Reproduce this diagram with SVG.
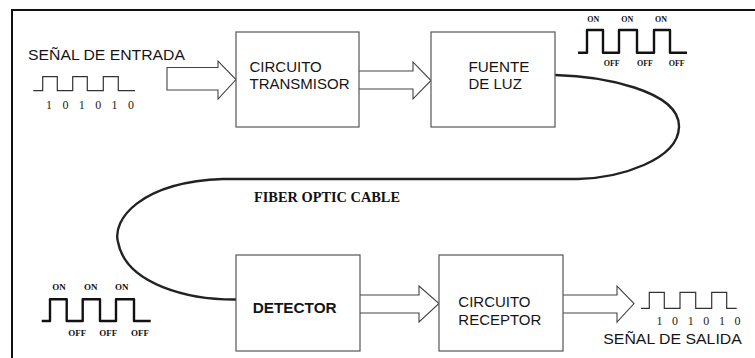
<svg xmlns="http://www.w3.org/2000/svg" width="755" height="358" viewBox="0 0 755 358">
<style>
.box{fill:#fff;stroke:#555;stroke-width:1.2}
.arr{fill:#fff;stroke:#444;stroke-width:1.1;stroke-linejoin:miter}
.sig{fill:none;stroke:#333;stroke-width:1.2}
.pulse{fill:none;stroke:#111;stroke-width:2.4;stroke-linejoin:round}
.lbl{font-family:"Liberation Sans",Arial,sans-serif;font-size:15px;fill:#151515}
.dig{font-family:"Liberation Serif","Times New Roman",serif;font-size:12px;fill:#222}
.oo{font-family:"Liberation Serif","Times New Roman",serif;font-weight:bold;fill:#111;text-anchor:middle}
.cable{fill:none;stroke:#222;stroke-width:2.4;stroke-linecap:round}
</style>
<rect width="755" height="358" fill="#fff"/>
<path d="M12,358 V10 H755" fill="none" stroke="#111" stroke-width="2"/>

<g id="connectors">
<path class="cable" d="M555,75 C600,76 680,90 679,127 C678,160 620,178 578,179 L223,179 C140,182 112,220 118,242 C126,285 190,300 237,299.5"/>
<path class="arr" d="M167,67.5 H218 V61 L236,79.5 L218,99 V90 H167 Z"/>
<path class="arr" d="M359,71 H413 V62 L431,80.5 L413,99 V89 H359"/>
<path class="arr" d="M360,295 H419 V286 L439,303.5 L419,322 V313 H360"/>
<path class="arr" d="M563,295 H617 V286 L634,303.5 L617,322 V313 H563"/>
</g>

<g id="input">
<text class="lbl" x="28" y="59.5" font-size="16" textLength="157" lengthAdjust="spacingAndGlyphs">SEÑAL DE ENTRADA</text>
<path class="sig" d="M33.3,90.7 H42.7 V76.7 H57.3 V90.7 H72.7 V76.7 H87.3 V90.7 H103.3 V76.7 H118.3 V90.7 H135"/>
<text class="dig" x="46" y="108.5" textLength="88">1 0 1 0 1 0</text>
</g>

<g id="transmisor">
<rect class="box" x="236" y="32" width="123" height="95"/>
<text class="lbl" x="249.5" y="71.7">CIRCUITO</text>
<text class="lbl" x="249.5" y="88.5" textLength="100" lengthAdjust="spacingAndGlyphs">TRANSMISOR</text>
</g>

<g id="fuente">
<rect class="box" x="431" y="32" width="124" height="95"/>
<text class="lbl" x="468.5" y="71.7" textLength="61" lengthAdjust="spacingAndGlyphs">FUENTE</text>
<text class="lbl" x="468.5" y="88.5">DE LUZ</text>
</g>

<g id="pulses-top">
<path class="pulse" d="M578,52.7 H587 V30 H603 V52.7 H619 V30 H637 V52.7 H654 V30 H670 V52.7 H687"/>
<text class="oo" font-size="8" x="593.3" y="21.7">ON</text>
<text class="oo" font-size="8" x="627.3" y="21.7">ON</text>
<text class="oo" font-size="8" x="661" y="21.7">ON</text>
<text class="oo" font-size="8" x="611.7" y="66">OFF</text>
<text class="oo" font-size="8" x="645" y="66">OFF</text>
<text class="oo" font-size="8" x="676.7" y="66">OFF</text>
</g>

<g id="cable-label">
<text class="oo" style="text-anchor:start" font-size="15" x="254" y="201.7" textLength="146" lengthAdjust="spacingAndGlyphs">FIBER OPTIC CABLE</text>
</g>

<g id="pulses-bottom">
<path class="pulse" d="M41.7,321 H50 V299.3 H66.7 V321 H82.7 V299.3 H100 V321 H116 V299.3 H134 V321 H150.7"/>
<text class="oo" font-size="9" x="59" y="290">ON</text>
<text class="oo" font-size="9" x="90.7" y="290">ON</text>
<text class="oo" font-size="9" x="121.7" y="290">ON</text>
<text class="oo" font-size="9" x="77.3" y="335.7">OFF</text>
<text class="oo" font-size="9" x="108.3" y="335.7">OFF</text>
<text class="oo" font-size="9" x="140" y="335.7">OFF</text>
</g>

<g id="detector">
<rect class="box" x="236" y="255" width="124" height="96"/>
<text class="lbl" x="252.7" y="313.3" font-weight="bold" textLength="84" lengthAdjust="spacingAndGlyphs">DETECTOR</text>
</g>

<g id="receptor">
<rect class="box" x="439" y="255" width="124" height="96"/>
<text class="lbl" x="458.3" y="306.7">CIRCUITO</text>
<text class="lbl" x="458.3" y="325">RECEPTOR</text>
</g>

<g id="output">
<path class="sig" d="M641,308.3 H649.3 V292.3 H664.3 V308.3 H680 V292.3 H695.7 V308.3 H711.7 V292.3 H726.7 V308.3 H736.7"/>
<text class="dig" x="656.5" y="325" textLength="84">1 0 1 0 1 0</text>
<text class="lbl" x="603.3" y="344" textLength="138.5" lengthAdjust="spacingAndGlyphs">SEÑAL DE SALIDA</text>
</g>
</svg>
